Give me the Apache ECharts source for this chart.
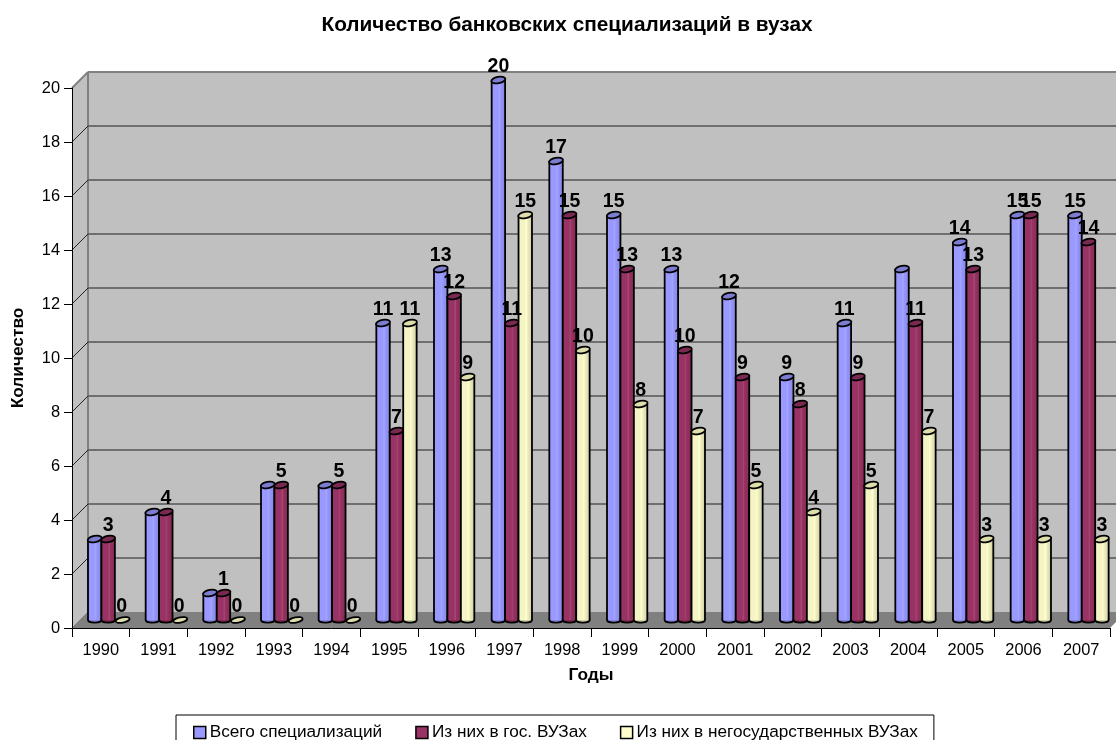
<!DOCTYPE html>
<html><head><meta charset="utf-8">
<script src="https://cdn.jsdelivr.net/npm/echarts@6/dist/echarts.min.js"></script>
<style>html,body{margin:0;padding:0;background:#fff;overflow:hidden}#c{width:1116px;height:740px}</style>
</head><body><div id="c"></div>
<script>
const years = ['1990','1991','1992','1993','1994','1995','1996','1997','1998','1999','2000','2001','2002','2003','2004','2005','2006','2007'];
const total = [3,4,1,5,5,11,13,20,17,15,13,12,9,11,13,14,15,15];
const state = [3,4,1,5,5,7,12,11,15,13,10,9,8,9,11,13,15,14];
const priv  = [0,0,0,0,0,11,9,15,10,8,7,5,4,5,7,3,3,3];
const totalLabels = [null,null,null,null,null,11,13,20,17,15,13,12,9,11,null,14,15,15];
const stateLabels = [3,4,1,5,5,7,12,11,15,13,10,9,8,9,11,13,15,14];
const privLabels  = [0,0,0,0,0,11,9,15,10,8,7,5,4,5,7,3,3,3];
const yTicks = [0,2,4,6,8,10,12,14,16,18,20];
const names = ['Всего специализаций','Из них в гос. ВУЗах','Из них в негосударственных ВУЗах'];

const DEPTH = 16, BASE = 8, FONT = '"Liberation Sans", Arial, sans-serif';
const palette = [
  {main:'#9999FF', light:'#A6A6FF', dark:'#8585E0', top:'#7C7CD0'},
  {main:'#993366', light:'#A5476F', dark:'#84294F', top:'#7A2950'},
  {main:'#F4F4C4', light:'#FFFFD0', dark:'#CFCFA6', top:'#DEDEAC'}
];

function wallItem(params, api){
  const v = api.value(0);
  const p = api.coord([0, v]);
  const xL = api.coord([0,0])[0] - api.size([1,0])[0]/2;
  const xR = xL + api.size([1,0])[0]*years.length;
  const y = p[1];
  const kids = [];
  const isTop = v === yTicks[yTicks.length-1];
  if (v === 0){
    const yTop = api.coord([0,yTicks[yTicks.length-1]])[1];
    kids.push({type:'polygon',shape:{points:[[xL,y],[xL+DEPTH,y-DEPTH],[xL+DEPTH,yTop-DEPTH],[xL,yTop]]},style:{fill:'#C0C0C0',stroke:null}});
    kids.push({type:'rect',shape:{x:xL+DEPTH,y:yTop-DEPTH,width:xR-xL,height:y-yTop},style:{fill:'#C0C0C0',stroke:null}});
    kids.push({type:'polygon',shape:{points:[[xL,y],[xR,y],[xR+DEPTH,y-DEPTH],[xL+DEPTH,y-DEPTH]]},style:{fill:'#808080',stroke:null}});
    kids.push({type:'line',shape:{x1:xL+DEPTH,y1:y-DEPTH,x2:xL+DEPTH,y2:yTop-DEPTH},style:{stroke:'#808080',lineWidth:2}});
    kids.push({type:'line',shape:{x1:xL,y1:y,x2:xL+DEPTH,y2:y-DEPTH},style:{stroke:'#808080',lineWidth:1}});
  } else {
    kids.push({type:'line',shape:{x1:xL,y1:y,x2:xL+DEPTH,y2:y-DEPTH},style:{stroke:isTop?'#808080':'#222',lineWidth:isTop?2:1}});
    kids.push({type:'line',shape:{x1:xL+DEPTH,y1:y-DEPTH,x2:xR+DEPTH,y2:y-DEPTH},style:{stroke:isTop?'#808080':'#555',lineWidth:isTop?2:1.5}});
  }
  return {type:'group',children:kids};
}

function barGeom(api, idx){
  const step = api.size([1,0])[0];
  const cat = api.value(0), val = api.value(1);
  const left = api.coord([cat,0])[0] - step/2 + DEPTH;
  const w = step*0.233;
  const x = left + w*idx;
  const yBase = api.coord([cat,0])[1] - BASE;
  const yTop = yBase - (api.coord([cat,0])[1] - api.coord([cat,val])[1]);
  return {x,w,yBase,yTop,val};
}

function ell(cx,cy,rx,ry,fill,rot){
  return {type:'ellipse',x:cx,y:cy,rotation:rot,shape:{cx:0,cy:0,rx,ry},style:{fill,stroke:'#000',lineWidth:1.8}};
}

function barRenderer(idx){
  const c = palette[idx];
  return function(params, api){
    const g = barGeom(api, idx);
    const cx = g.x + g.w/2, rx = g.w/2 + 0.4;
    if (g.val === 0){
      return {type:'group',children:[ell(cx+1,g.yTop,rx,2.6,c.top,0.2)]};
    }
    const fill = new echarts.graphic.LinearGradient(0,0,1,0,[
      {offset:0,color:c.main},{offset:0.45,color:c.main},{offset:0.6,color:c.light},{offset:0.62,color:c.main},{offset:1,color:c.dark}
    ]);
    return {type:'group',children:[
      ell(cx,g.yBase,rx-0.4,2.6,c.dark,0),
      {type:'rect',shape:{x:g.x,y:g.yTop,width:g.w,height:g.yBase-g.yTop},style:{fill,stroke:null}},
      {type:'line',shape:{x1:g.x,y1:g.yTop,x2:g.x,y2:g.yBase},style:{stroke:'#000',lineWidth:1.8}},
      {type:'line',shape:{x1:g.x+g.w,y1:g.yTop,x2:g.x+g.w,y2:g.yBase},style:{stroke:'#000',lineWidth:1.8}},
      ell(cx,g.yTop,rx,3.2,c.top,0.2)
    ]};
  };
}

function labelRenderer(params, api){
  const txt = api.value(2);
  const g = barGeom(api, api.value(3));
  return {type:'text',style:{x:g.x+g.w/2,y:g.yTop-13,text:String(txt),fill:'#000',font:'bold 19.5px '+FONT,align:'center',verticalAlign:'middle'}};
}

const labelData = [];
[totalLabels,stateLabels,privLabels].forEach((arr,si)=>{
  const vals = [total,state,priv][si];
  arr.forEach((t,i)=>{ if(t!==null) labelData.push([i,vals[i],t,si]); });
});

const chart = echarts.init(document.getElementById('c'),null,{renderer:'canvas'});
chart.setOption({
  animation:false,
  backgroundColor:'#fff',
  title:{text:'Количество банковских специализаций в вузах',left:562,top:10,textAlign:'center',
    textStyle:{fontFamily:FONT,fontSize:20.8,fontWeight:'bold',color:'#000'}},
  legend:{data:names,left:176,top:715,orient:'horizontal',itemWidth:12,itemHeight:12,itemGap:33,padding:[9,16,12,17],
    borderColor:'#000',borderWidth:1,backgroundColor:'#fff',icon:'rect',selectedMode:false,
    textStyle:{fontFamily:FONT,fontSize:17.2,color:'#000',padding:[0,0,0,-1]},
    itemStyle:{borderColor:'#000',borderWidth:1.5}},
  grid:{left:72,top:88,width:1038,height:540,containLabel:false},
  xAxis:{type:'category',data:years,name:'Годы',nameLocation:'middle',nameGap:39,z:5,
    nameTextStyle:{fontFamily:FONT,fontSize:17.3,fontWeight:'bold',color:'#000'},
    axisLine:{lineStyle:{color:'#000',width:1}},
    axisTick:{show:true,length:9,alignWithLabel:false,lineStyle:{color:'#000'}},
    axisLabel:{fontFamily:FONT,fontSize:16.4,color:'#000',margin:14,interval:0},
    splitLine:{show:false}},
  yAxis:{type:'value',min:0,max:20,interval:2,data:yTicks,name:'Количество',nameLocation:'middle',nameGap:45,z:5,
    nameTextStyle:{fontFamily:FONT,fontSize:17.3,fontWeight:'bold',color:'#000'},
    axisLine:{show:true,lineStyle:{color:'#000',width:1}},
    axisTick:{show:true,length:8,lineStyle:{color:'#000'}},
    axisLabel:{fontFamily:FONT,fontSize:16.4,color:'#000',margin:12},
    splitLine:{show:false}},
  series:[
    {type:'custom',name:'walls',z:1,clip:false,silent:true,data:yTicks.map(v=>[v]),encode:{y:0},renderItem:wallItem},
    {type:'custom',name:names[0],z:3,clip:false,itemStyle:{color:palette[0].main},data:total.map((v,i)=>[i,v]),renderItem:barRenderer(0)},
    {type:'custom',name:names[1],z:3,clip:false,itemStyle:{color:palette[1].main},data:state.map((v,i)=>[i,v]),renderItem:barRenderer(1)},
    {type:'custom',name:names[2],z:3,clip:false,itemStyle:{color:'#FFFFCC'},data:priv.map((v,i)=>[i,v]),renderItem:barRenderer(2)},
    {type:'custom',name:'labels',z:6,clip:false,silent:true,data:labelData,renderItem:labelRenderer}
  ]
});
</script></body></html>
